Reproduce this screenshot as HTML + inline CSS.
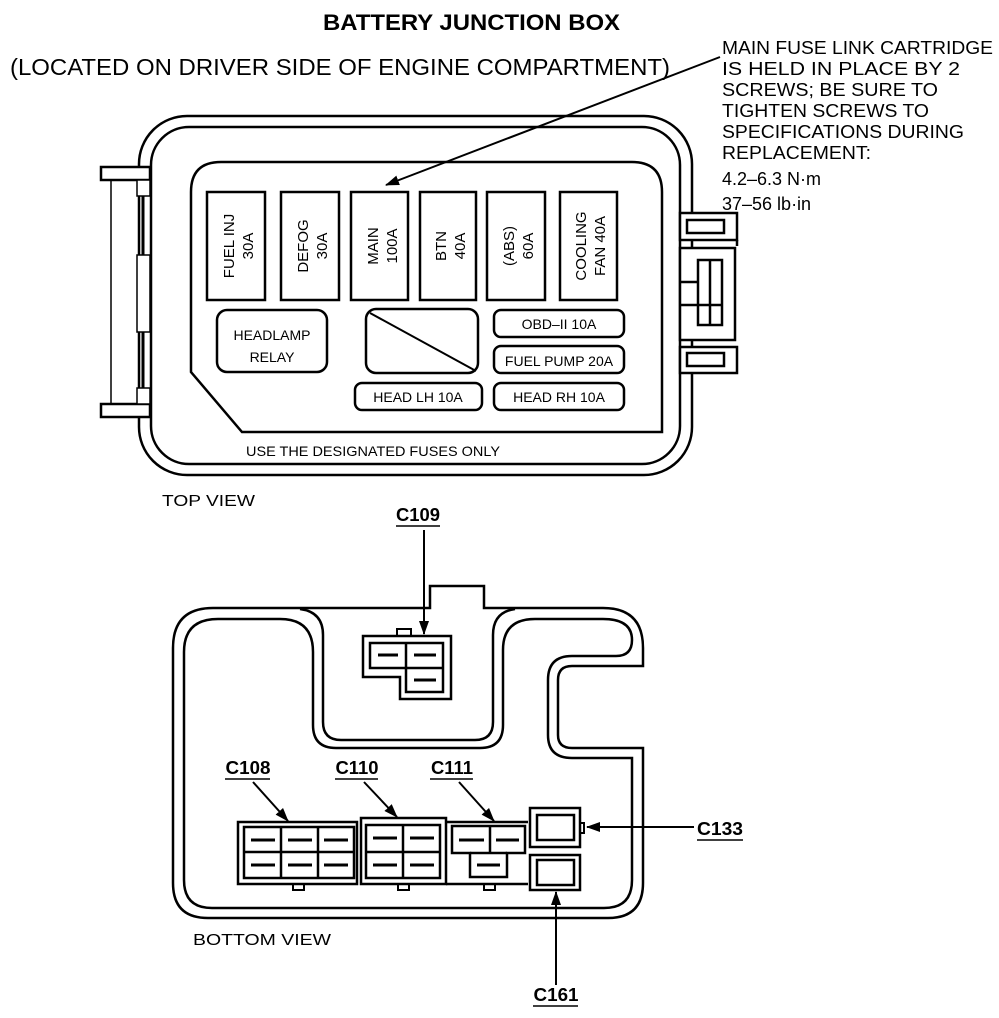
<!DOCTYPE html>
<html><head><meta charset="utf-8"><style>
html,body{margin:0;padding:0;background:#fff;}
svg{display:block;}
text{font-family:"Liberation Sans",Arial,sans-serif;fill:#000;}
</style></head><body>
<svg width="999" height="1018" viewBox="0 0 999 1018" xmlns="http://www.w3.org/2000/svg">
<defs><marker id="ah" markerWidth="14" markerHeight="10" refX="13" refY="5" orient="auto" markerUnits="userSpaceOnUse"><path d="M0,0 L14,5 L0,10 Z" fill="#000"/></marker></defs>
<g fill="none" stroke="#000" stroke-width="2.5">
<text x="323" y="30" font-size="22" font-weight="bold" stroke="none" textLength="297" lengthAdjust="spacingAndGlyphs">BATTERY JUNCTION BOX</text>
<text x="10" y="75" font-size="23" stroke="none" textLength="660" lengthAdjust="spacingAndGlyphs">(LOCATED ON DRIVER SIDE OF ENGINE COMPARTMENT)</text>
<g stroke="none" font-size="18">
<text x="722" y="54" textLength="271" lengthAdjust="spacingAndGlyphs">MAIN FUSE LINK CARTRIDGE</text>
<text x="722" y="75" textLength="238" lengthAdjust="spacingAndGlyphs">IS HELD IN PLACE BY 2</text>
<text x="722" y="96" textLength="216" lengthAdjust="spacingAndGlyphs">SCREWS; BE SURE TO</text>
<text x="722" y="117" textLength="207" lengthAdjust="spacingAndGlyphs">TIGHTEN SCREWS TO</text>
<text x="722" y="138" textLength="242" lengthAdjust="spacingAndGlyphs">SPECIFICATIONS DURING</text>
<text x="722" y="159" textLength="149" lengthAdjust="spacingAndGlyphs">REPLACEMENT:</text>
<text x="722" y="185">4.2–6.3 N·m</text>
<text x="722" y="210">37–56 lb·in</text>
</g>
<line x1="720" y1="57" x2="386" y2="185" stroke-width="2" marker-end="url(#ah)"/>
<rect x="139" y="116" width="553" height="359" rx="48"/>
<rect x="151" y="127" width="529" height="337" rx="38"/>
<rect x="101" y="167" width="49" height="13" fill="#fff"/>
<rect x="101" y="404" width="49" height="13" fill="#fff"/>
<line x1="111" y1="180" x2="111" y2="404" stroke-width="1.5"/>
<rect x="137" y="180" width="13" height="16" fill="#fff" stroke-width="1.5"/>
<rect x="137" y="255" width="13" height="77" fill="#fff" stroke-width="1.5"/>
<rect x="137" y="388" width="13" height="16" fill="#fff" stroke-width="1.5"/>
<line x1="143" y1="196" x2="143" y2="255" stroke-width="3"/>
<line x1="143" y1="332" x2="143" y2="388" stroke-width="3"/>
<rect x="680" y="213" width="57" height="27" fill="#fff"/>
<rect x="687" y="220" width="37" height="13"/>
<line x1="737" y1="240" x2="737" y2="246"/>
<rect x="680" y="248" width="55" height="92" fill="#fff"/>
<rect x="698" y="260" width="24" height="65"/>
<line x1="710" y1="260" x2="710" y2="325"/>
<line x1="680" y1="282" x2="698" y2="282"/>
<line x1="680" y1="305" x2="722" y2="305"/>
<rect x="680" y="347" width="57" height="26" fill="#fff"/>
<rect x="687" y="353" width="37" height="13"/>
<path d="M191,372 L191,192 Q191,162 221,162 L632,162 Q662,162 662,192 L662,432 L242,432 Z"/>
<rect x="207" y="192" width="58" height="108"/>
<rect x="281" y="192" width="58" height="108"/>
<rect x="351" y="192" width="57" height="108"/>
<rect x="420" y="192" width="56" height="108"/>
<rect x="487" y="192" width="58" height="108"/>
<rect x="560" y="192" width="57" height="108"/>
<g stroke="none" font-size="15">
<text transform="translate(236,246) rotate(-90)" text-anchor="middle"><tspan x="0" dy="-2">FUEL INJ</tspan><tspan x="0" dy="19">30A</tspan></text>
<text transform="translate(310,246) rotate(-90)" text-anchor="middle"><tspan x="0" dy="-2">DEFOG</tspan><tspan x="0" dy="19">30A</tspan></text>
<text transform="translate(380,246) rotate(-90)" text-anchor="middle"><tspan x="0" dy="-2">MAIN</tspan><tspan x="0" dy="19">100A</tspan></text>
<text transform="translate(448,246) rotate(-90)" text-anchor="middle"><tspan x="0" dy="-2">BTN</tspan><tspan x="0" dy="19">40A</tspan></text>
<text transform="translate(516,246) rotate(-90)" text-anchor="middle"><tspan x="0" dy="-2">(ABS)</tspan><tspan x="0" dy="19">60A</tspan></text>
<text transform="translate(588,246) rotate(-90)" text-anchor="middle"><tspan x="0" dy="-2">COOLING</tspan><tspan x="0" dy="19">FAN 40A</tspan></text>
</g>
<rect x="217" y="310" width="110" height="62" rx="10"/>
<rect x="366" y="309" width="112" height="64" rx="10"/>
<line x1="370" y1="313" x2="476" y2="371" stroke-width="2"/>
<rect x="494" y="310" width="130" height="27" rx="7"/>
<rect x="494" y="346" width="130" height="27" rx="7"/>
<rect x="355" y="383" width="127" height="27" rx="7"/>
<rect x="494" y="383" width="130" height="27" rx="7"/>
<g stroke="none" font-size="14" text-anchor="middle">
<text x="272" y="340">HEADLAMP</text>
<text x="272" y="362">RELAY</text>
<text x="559" y="329">OBD–II 10A</text>
<text x="559" y="366">FUEL PUMP 20A</text>
<text x="418" y="402">HEAD LH 10A</text>
<text x="559" y="402">HEAD RH 10A</text>
</g>
<g stroke="none" font-size="15">
<text x="246" y="456" font-size="14" textLength="254" lengthAdjust="spacingAndGlyphs">USE THE DESIGNATED FUSES ONLY</text>
<text x="162" y="506" font-size="16" textLength="93" lengthAdjust="spacingAndGlyphs">TOP VIEW</text>
<text x="193" y="945" font-size="16" textLength="138" lengthAdjust="spacingAndGlyphs">BOTTOM VIEW</text>
</g>
<!-- bottom view outline -->
<path d="M213,608 L430,608 L430,586 L484,586 L484,608 L603,608 Q643,608 643,648 L643,666 L572,666 Q558,666 558,680 L558,735 Q558,748 572,748 L643,748 L643,883 Q643,918 608,918 L208,918 Q173,918 173,883 L173,648 Q173,608 213,608 Z"/>
<path d="M218,619 L280,619 Q313,619 313,652 L313,725 Q313,748 336,748 L480,748 Q503,748 503,725 L503,650 Q503,619 535,619 L603,619 Q632,619 632,640 Q632,656 616,656 L572,656 Q548,656 548,680 L548,735 Q548,758 572,758 L632,758 L632,880 Q632,908 604,908 L212,908 Q184,908 184,880 L184,652 Q184,619 218,619 Z"/>
<path d="M300,609 Q323,612 323,635 L323,722 Q323,740 341,740 L475,740 Q493,740 493,722 L493,635 Q493,612 515,609"/>
<!-- C109 -->
<rect x="397" y="629" width="14" height="7" fill="#fff" stroke-width="2"/>
<path d="M363,636 L451,636 L451,699 L400,699 L400,677 L363,677 Z" fill="#fff"/>
<path d="M370,643 L443,643 L443,692 L406,692 L406,668 L370,668 Z"/>
<line x1="406" y1="643" x2="406" y2="668"/><line x1="406" y1="668" x2="443" y2="668"/>
<line x1="378" y1="655" x2="398" y2="655" stroke-width="3"/>
<line x1="414" y1="655" x2="436" y2="655" stroke-width="3"/>
<line x1="414" y1="680" x2="436" y2="680" stroke-width="3"/>
<rect x="293" y="884" width="11" height="6" stroke-width="2"/>
<rect x="398" y="884" width="11" height="6" stroke-width="2"/>
<rect x="484" y="884" width="11" height="6" stroke-width="2"/>
<rect x="238" y="822" width="119" height="62" fill="#fff"/>
<rect x="244" y="827" width="110" height="51"/>
<line x1="281" y1="827" x2="281" y2="878"/><line x1="318" y1="827" x2="318" y2="878"/><line x1="244" y1="852" x2="354" y2="852"/>
<rect x="361" y="818" width="85" height="66" fill="#fff"/>
<rect x="366" y="825" width="74" height="53"/>
<line x1="403" y1="825" x2="403" y2="878"/><line x1="366" y1="852" x2="440" y2="852"/>
<path d="M446,822 L528,822 M446,884 L528,884"/>
<path d="M452,826 L525,826 L525,853 L507,853 L507,877 L470,877 L470,853 L452,853 Z"/>
<line x1="490" y1="826" x2="490" y2="853"/><line x1="470" y1="853" x2="507" y2="853"/>
<g stroke-width="3">
<line x1="251" y1="840" x2="275" y2="840"/><line x1="288" y1="840" x2="312" y2="840"/><line x1="324" y1="840" x2="348" y2="840"/>
<line x1="251" y1="865" x2="275" y2="865"/><line x1="288" y1="865" x2="312" y2="865"/><line x1="324" y1="865" x2="348" y2="865"/>
<line x1="373" y1="838" x2="397" y2="838"/><line x1="410" y1="838" x2="434" y2="838"/>
<line x1="373" y1="865" x2="397" y2="865"/><line x1="410" y1="865" x2="434" y2="865"/>
<line x1="459" y1="840" x2="484" y2="840"/><line x1="496" y1="840" x2="519" y2="840"/>
<line x1="477" y1="865" x2="500" y2="865"/>
<line x1="544" y1="828" x2="567" y2="828"/><line x1="544" y1="875" x2="567" y2="875"/>
</g>
<rect x="530" y="808" width="50" height="39" fill="#fff"/>
<rect x="537" y="815" width="37" height="25"/>
<rect x="580" y="823" width="4" height="10" stroke-width="2"/>
<rect x="530" y="855" width="50" height="35" fill="#fff"/>
<rect x="537" y="860" width="37" height="25"/>
<g stroke="none" font-size="18" font-weight="bold" text-anchor="middle">
<text x="418" y="521" textLength="44" lengthAdjust="spacingAndGlyphs">C109</text>
<text x="248" y="774" textLength="45" lengthAdjust="spacingAndGlyphs">C108</text>
<text x="357" y="774" textLength="43" lengthAdjust="spacingAndGlyphs">C110</text>
<text x="452" y="774" textLength="42" lengthAdjust="spacingAndGlyphs">C111</text>
<text x="720" y="835" textLength="46" lengthAdjust="spacingAndGlyphs">C133</text>
<text x="556" y="1001" textLength="45" lengthAdjust="spacingAndGlyphs">C161</text>
</g>
<g stroke-width="1.5">
<line x1="396" y1="526" x2="440" y2="526"/>
<line x1="225" y1="779" x2="270" y2="779"/>
<line x1="335" y1="779" x2="378" y2="779"/>
<line x1="430" y1="779" x2="473" y2="779"/>
<line x1="697" y1="840" x2="743" y2="840"/>
<line x1="533" y1="1006" x2="578" y2="1006"/>
</g>
<g stroke-width="2">
<line x1="424" y1="530" x2="424" y2="634" marker-end="url(#ah)"/>
<line x1="253" y1="782" x2="288" y2="821" marker-end="url(#ah)"/>
<line x1="364" y1="782" x2="397" y2="817" marker-end="url(#ah)"/>
<line x1="459" y1="782" x2="494" y2="821" marker-end="url(#ah)"/>
<line x1="694" y1="827" x2="587" y2="827" marker-end="url(#ah)"/>
<line x1="556" y1="985" x2="556" y2="892" marker-end="url(#ah)"/>
</g>
</g>
</svg>
</body></html>
